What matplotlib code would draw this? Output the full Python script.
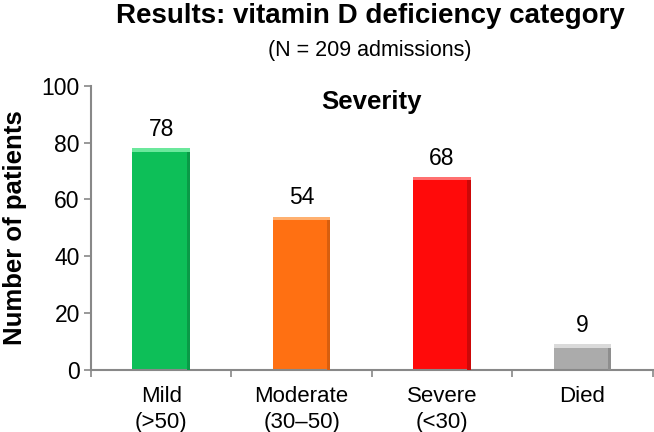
import numpy as np
import matplotlib.pyplot as plt

plt.rcParams['font.family'] = ['Liberation Sans', 'DejaVu Sans']

categories = ['Mild\n(>50)', 'Moderate\n(30\u201350)', 'Severe\n(<30)', 'Died']
counts = [78, 54, 68, 9]
colors = ['#0DBF58', '#FF7012', '#FF0A0A', '#ABABAB']
top_colors = ['#6BE89C', '#FFB070', '#FF7070', '#DADADA']
side_colors = ['#0A9A47', '#D85E0E', '#CC0808', '#8E8E8E']

fig = plt.figure(figsize=(6.54, 4.32), dpi=100)
ax = fig.add_axes([0.139, 0.1435, 0.859, 0.658])

x = np.arange(len(categories))
bar_w = 0.41
ax.bar(x, counts, width=bar_w, color=colors, edgecolor='none', zorder=2)
# bevel: light top strip and darker right edge, like the original bars
for xi, c, tc, sc in zip(x, counts, top_colors, side_colors):
    ax.bar(xi + bar_w / 2 - 0.012, c, width=0.024, color=sc, edgecolor='none', zorder=3)
    ax.bar(xi, 1.2, bottom=c - 1.2, width=bar_w, color=tc, edgecolor='none', zorder=4)
    ax.text(xi, c + 2.5, str(c), ha='center', va='bottom', fontsize=16.5)

ax.set_xlim(-0.5, 3.5)
ax.set_ylim(0, 100)
ax.set_yticks([0, 20, 40, 60, 80, 100])
ax.set_xticks(x)
ax.set_xticklabels(categories, fontsize=16, linespacing=1.34)
ax.set_xticks(np.arange(-0.5, 4, 1), minor=True)
ax.tick_params(axis='x', which='major', length=0, pad=11.5)
ax.tick_params(axis='x', which='minor', length=5, color='#888888', width=1.2, direction='out')
ax.tick_params(axis='y', length=5, color='#888888', width=1.2, labelsize=16.5, pad=3)

for s in ['top', 'right']:
    ax.spines[s].set_visible(False)
for s in ['left', 'bottom']:
    ax.spines[s].set_color('#888888')
    ax.spines[s].set_linewidth(1.5)

ax.set_ylabel('Number of patients', fontsize=18.5, fontweight='bold')
ax.yaxis.set_label_coords(-0.114, 0.5)
ax.text(0.5, 0.985, 'Severity', transform=ax.transAxes, ha='center', va='top',
        fontsize=18.5, fontweight='bold')

fig.text(0.566, 0.963, 'Results: vitamin D deficiency category', ha='center', va='center',
         fontsize=20, fontweight='bold')
fig.text(0.566, 0.884, '(N = 209 admissions)', ha='center', va='center', fontsize=15.5)

fig.savefig('out.png', dpi=100)
